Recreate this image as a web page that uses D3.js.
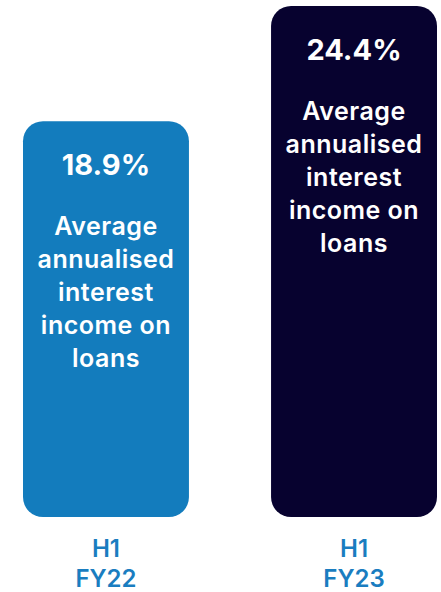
<!DOCTYPE html>
<html>
<head>
<meta charset="utf-8">
<script src="https://cdn.jsdelivr.net/npm/d3@7"></script>
<style>
  html, body { margin: 0; padding: 0; background: #ffffff; }
  svg { display: block; }
  text { font-family: Inter, "Open Sans", sans-serif; }
</style>
</head>
<body>
<svg id="chart" width="441" height="592"></svg>
<script>
// Half-year periods and the average annualised interest income on loans (%)
const periods = ["H1 FY22", "H1 FY23"];
const periodLines = [["H1", "FY22"], ["H1", "FY23"]];
const rates = [18.9, 24.4];
const barColors = ["#137cbd", "#07022f"];
const barCaption = ["Average", "annualised", "interest", "income on", "loans"];

const svg = d3.select("#chart");

const x = d3.scaleBand()
  .domain(periods)
  .range([23, 437])
  .paddingInner(0.331)
  .paddingOuter(0);

const y = d3.scaleLinear()
  .domain([0, 24.4])
  .range([517, 6]);

const data = periods.map((p, i) => ({ period: p, value: rates[i], color: barColors[i], lines: periodLines[i] }));

const bars = svg.selectAll("g.bar")
  .data(data)
  .join("g")
  .attr("class", "bar");

bars.append("rect")
  .attr("x", d => x(d.period))
  .attr("y", d => y(d.value))
  .attr("width", x.bandwidth())
  .attr("height", d => y(0) - y(d.value))
  .attr("rx", 20)
  .attr("ry", 20)
  .attr("fill", d => d.color);

const cx = d => x(d.period) + x.bandwidth() / 2;

// value label inside the top of each bar
bars.append("text")
  .attr("x", cx)
  .attr("y", d => y(d.value) + 54)
  .attr("text-anchor", "middle")
  .attr("fill", "#ffffff")
  .attr("font-size", 29)
  .attr("font-weight", 700)
  .text(d => d.value.toFixed(1) + "%");

// caption under the value
bars.each(function(d) {
  const g = d3.select(this);
  const t = g.append("text")
    .attr("text-anchor", "middle")
    .attr("fill", "#ffffff")
    .attr("font-size", 25)
    .attr("font-weight", 600)
    .attr("letter-spacing", 0.5);
  barCaption.forEach((line, k) => {
    t.append("tspan")
      .attr("x", cx(d))
      .attr("y", y(d.value) + 114 + k * 33)
      .text(line);
  });
});

// category labels below the bars
bars.each(function(d) {
  const g = d3.select(this);
  const t = g.append("text")
    .attr("text-anchor", "middle")
    .attr("fill", "#1a7dc0")
    .attr("font-size", 24)
    .attr("font-weight", 600);
  d.lines.forEach((line, k) => {
    t.append("tspan")
      .attr("x", cx(d))
      .attr("y", 557 + k * 30)
      .text(line);
  });
});
</script>
</body>
</html>
